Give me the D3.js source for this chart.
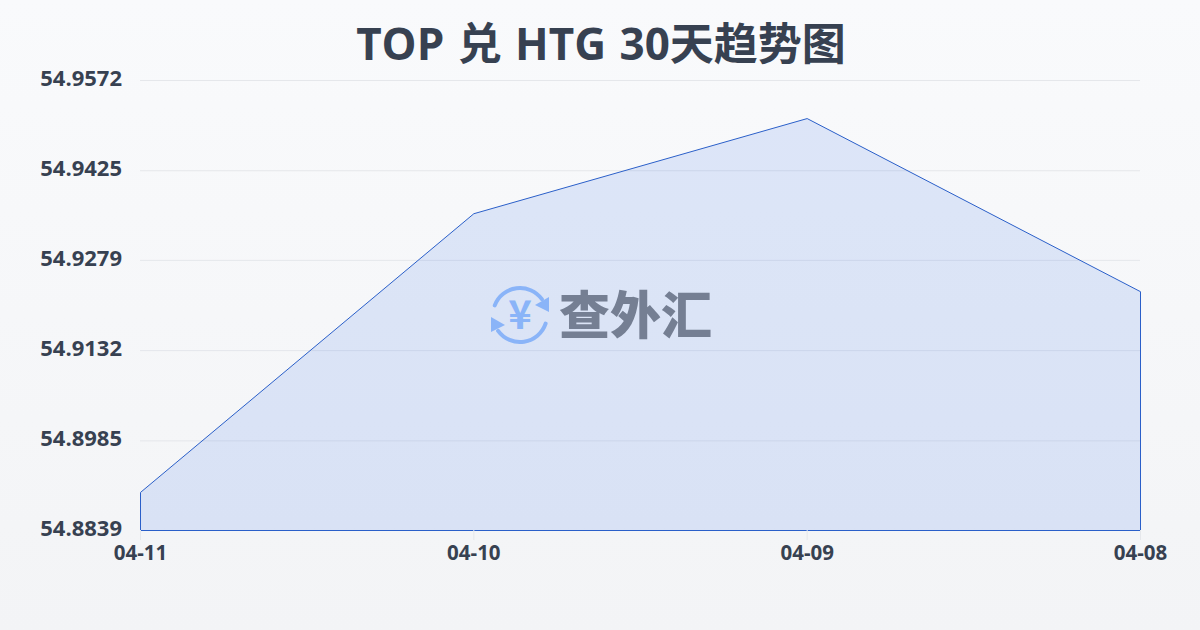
<!DOCTYPE html>
<html>
<head>
<meta charset="utf-8">
<script src="https://cdn.jsdelivr.net/npm/d3@7"></script>
<style>
html, body { margin: 0; padding: 0; }
svg { display: block; }
text { font-family: "Open Sans", "Noto Sans CJK SC", sans-serif; font-weight: 700; fill: #374151; }
</style>
</head>
<body>
<svg id="svg1" width="1200" height="630"></svg>
<script>
var titleText = "TOP 兑 HTG 30天趋势图";
var dates = ["04-11", "04-10", "04-09", "04-08"];
var rates = [54.8901, 54.9355, 54.9510, 54.9228];
var yTicks = [54.8839, 54.8985, 54.9132, 54.9279, 54.9425, 54.9572];
var logoText = "查外汇";

var svg = d3.select("#svg1");
var margin = { top: 80, right: 60, bottom: 100, left: 140 },
    width = +svg.attr("width") - margin.left - margin.right,
    height = +svg.attr("height") - margin.top - margin.bottom;

var defs = svg.append("defs");
var bg = defs.append("linearGradient")
    .attr("id", "bg")
    .attr("x1", 0).attr("y1", 0).attr("x2", 0).attr("y2", 1);
bg.append("stop").attr("offset", "0%").attr("stop-color", "#f9fafc");
bg.append("stop").attr("offset", "100%").attr("stop-color", "#f3f4f6");

svg.append("rect")
    .attr("width", 1200)
    .attr("height", 630)
    .attr("fill", "url(#bg)");

svg.append("text")
    .attr("x", 601)
    .attr("y", 60)
    .attr("text-anchor", "middle")
    .style("font-size", "44px")
    .style("word-spacing", "2px")
    .text(titleText);

var x = d3.scalePoint().domain(dates).range([0, width]);
var y = d3.scaleLinear().domain([yTicks[0], yTicks[yTicks.length - 1]]).range([height, 0]);

var g = svg.append("g")
    .attr("transform", "translate(" + margin.left + "," + margin.top + ")");

// grid + y labels
var yAxis = g.append("g")
    .call(d3.axisLeft(y).tickValues(yTicks).tickFormat(d3.format(".4f")).tickSize(-width).tickPadding(18));
yAxis.select(".domain").remove();
yAxis.selectAll("line").attr("stroke", "#e5e7eb").attr("stroke-width", 1);
yAxis.selectAll("text").style("font-size", "22px").attr("dy", "0.25em");

var area = d3.area()
    .x(function (d, i) { return x(dates[i]); })
    .y0(height)
    .y1(function (d) { return y(d); });

g.append("path")
    .datum(rates)
    .attr("d", area)
    .attr("transform", "translate(0.5,0.5)")
    .attr("fill", "#2563eb")
    .attr("fill-opacity", 0.13)
    .attr("stroke", "#2a5fc9")
    .attr("stroke-width", 1);

// x labels
var xAxis = g.append("g")
    .attr("transform", "translate(0," + height + ")")
    .call(d3.axisBottom(x).tickSize(10).tickPadding(5));
xAxis.select(".domain").remove();
xAxis.selectAll("line").attr("stroke", "#e5e7eb");
xAxis.selectAll("text").style("font-size", "20.5px");

// watermark logo
var logo = svg.append("g").attr("transform", "translate(520,315)");
var arc = d3.arc().innerRadius(25).outerRadius(29).cornerRadius(2);
logo.append("path")
    .attr("d", arc({ startAngle: -1.28, endAngle: 1.02 }))
    .attr("fill", "#8ab4f8");
logo.append("path")
    .attr("d", arc({ startAngle: 1.82, endAngle: 4.16 }))
    .attr("fill", "#8ab4f8");
logo.append("path")
    .attr("d", "M29,-18 L29,-3 L15,-10 Z")
    .attr("fill", "#8ab4f8");
logo.append("path")
    .attr("d", "M-29,2 L-29,17 L-15,10 Z")
    .attr("fill", "#8ab4f8");
logo.append("text")
    .attr("x", 0)
    .attr("y", 14)
    .attr("text-anchor", "middle")
    .style("font-family", "'Noto Sans CJK SC'")
    .style("font-size", "40px")
    .style("font-weight", 700)
    .style("fill", "#8ab4f8")
    .text("¥");
svg.append("text")
    .attr("x", 559)
    .attr("y", 334)
    .style("font-size", "51px")
    .style("font-weight", 900)
    .style("fill", "#757f93")
    .text(logoText);
</script>
</body>
</html>
